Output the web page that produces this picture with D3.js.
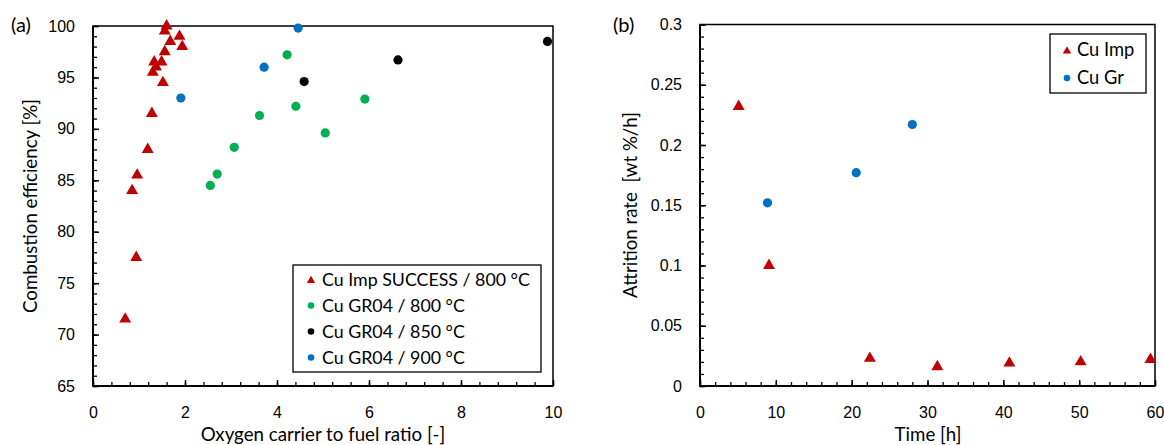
<!DOCTYPE html>
<html>
<head>
<meta charset="utf-8">
<script src="https://cdn.jsdelivr.net/npm/d3@7"></script>
<style>
body { margin: 0; background: #fff; }
svg { font-family: Lato, "Open Sans", sans-serif; }
text { fill: #000; }
</style>
</head>
<body>
<div id="chart"></div>
<script>
// panel (a) data: oxygen carrier to fuel ratio vs combustion efficiency
var impX = [0.70, 0.85, 0.94, 0.96, 1.19, 1.28, 1.30, 1.37, 1.33, 1.49, 1.52, 1.56, 1.68, 1.94, 1.88, 1.56, 1.60];
var impY = [71.5, 84.0, 77.5, 85.5, 88.0, 91.5, 95.5, 96.0, 96.5, 96.5, 94.5, 97.5, 98.5, 98.0, 99.0, 99.5, 100.0];
var gr800X = [2.55, 2.70, 3.07, 3.62, 4.22, 4.41, 5.05, 5.91];
var gr800Y = [84.5, 85.6, 88.2, 91.3, 97.2, 92.2, 89.6, 92.9];
var gr850X = [4.59, 6.63, 9.88];
var gr850Y = [94.6, 96.7, 98.5];
var gr900X = [1.91, 3.72, 4.46];
var gr900Y = [93.0, 96.0, 99.8];

// panel (b) data: time vs attrition rate
var attImpX = [5.1, 9.1, 22.4, 31.3, 40.8, 50.2, 59.4];
var attImpY = [0.232, 0.100, 0.023, 0.016, 0.019, 0.020, 0.022];
var attGrX = [8.9, 20.6, 28.0];
var attGrY = [0.152, 0.177, 0.217];

var red = "#C00000", green = "#00B050", black = "#000000", blue = "#0070C0";

var svg = d3.select("#chart").append("svg")
  .attr("width", 1164)
  .attr("height", 445);

function zip(xs, ys) {
  return xs.map(function(x, i) { return {x: x, y: ys[i]}; });
}

function drawFrame(g, x, y, xMinor, yMinor, xMajor, yMajor, xFmt, yFmt) {
  var w = x.range()[1], h = y.range()[0];
  // minor ticks (inside)
  g.append("g")
    .attr("transform", `translate(0,${h})`)
    .call(d3.axisBottom(x).tickValues(xMinor).tickSize(-4).tickFormat(""))
    .call(a => a.select(".domain").remove())
    .selectAll("line").attr("stroke-width", 1.3);
  g.append("g")
    .call(d3.axisLeft(y).tickValues(yMinor).tickSize(-4).tickFormat(""))
    .call(a => a.select(".domain").remove())
    .selectAll("line").attr("stroke-width", 1.3);
  // major ticks + labels
  var xa = g.append("g")
    .attr("transform", `translate(0,${h})`)
    .call(d3.axisBottom(x).tickValues(xMajor).tickSize(-6).tickPadding(21).tickFormat(xFmt));
  xa.select(".domain").remove();
  xa.selectAll("line").attr("stroke-width", 1.5);
  xa.selectAll("text").attr("font-size", 16).attr("font-family", null);
  var ya = g.append("g")
    .call(d3.axisLeft(y).tickValues(yMajor).tickSize(-6).tickPadding(18).tickFormat(yFmt));
  ya.select(".domain").remove();
  ya.selectAll("line").attr("stroke-width", 1.5);
  ya.selectAll("text").attr("font-size", 16).attr("font-family", null);
  // box
  g.append("rect")
    .attr("width", w).attr("height", h)
    .attr("fill", "none").attr("stroke", "#000").attr("stroke-width", 1.5);
  g.append("path")
    .attr("d", `M0,0V${h}H${w}`)
    .attr("fill", "none").attr("stroke", "#000").attr("stroke-width", 2);
}

var tri = d3.symbol().type(d3.symbolTriangle);

function drawTriangles(g, data, x, y, size) {
  g.selectAll(null).data(data).enter().append("path")
    .attr("d", tri.size(size)())
    .attr("transform", d => `translate(${x(d.x)},${y(d.y)})`)
    .attr("fill", red);
}

function drawCircles(g, data, x, y, r, color) {
  g.selectAll(null).data(data).enter().append("circle")
    .attr("cx", d => x(d.x)).attr("cy", d => y(d.y))
    .attr("r", r).attr("fill", color);
}

// ---------- panel (a) ----------
var aW = 460, aH = 360;
var gA = svg.append("g").attr("transform", "translate(93,26)");
var xA = d3.scaleLinear().domain([0, 10]).range([0, aW]);
var yA = d3.scaleLinear().domain([65, 100]).range([aH, 0]);

drawFrame(gA, xA, yA,
  d3.range(0, 10.01, 0.4), d3.range(65, 100.01, 1),
  d3.range(0, 10.01, 2), d3.range(65, 100.01, 5),
  d3.format("d"), d3.format("d"));

drawCircles(gA, zip(gr800X, gr800Y), xA, yA, 4.6, green);
drawCircles(gA, zip(gr850X, gr850Y), xA, yA, 4.6, black);
drawCircles(gA, zip(gr900X, gr900Y), xA, yA, 4.6, blue);
drawTriangles(gA, zip(impX, impY), xA, yA, 62);

// legend (a)
var legA = [
  {label: "Cu Imp SUCCESS / 800 °C", color: red, shape: "tri"},
  {label: "Cu GR04 / 800 °C", color: green, shape: "circle"},
  {label: "Cu GR04 / 850 °C", color: black, shape: "circle"},
  {label: "Cu GR04 / 900 °C", color: blue, shape: "circle"}
];
var lgA = svg.append("g").attr("transform", "translate(293,265)");
lgA.append("rect").attr("width", 248).attr("height", 107)
  .attr("fill", "#fff").attr("stroke", "#000").attr("stroke-width", 1.3);
legA.forEach(function(d, i) {
  var cy = 14.5 + i * 26;
  if (d.shape === "tri") {
    lgA.append("path").attr("d", tri.size(30)()).attr("transform", `translate(18,${cy + 1})`).attr("fill", d.color);
  } else {
    lgA.append("circle").attr("cx", 18).attr("cy", cy).attr("r", 3.3).attr("fill", d.color);
  }
  lgA.append("text").attr("x", 29).attr("y", cy).attr("dy", "0.35em")
    .attr("font-size", 17.8).text(d.label);
});

svg.append("text").attr("x", 11).attr("y", 25).attr("dy", "0.35em")
  .attr("font-size", 20).text("(a)");
svg.append("text")
  .attr("transform", "translate(30,206) rotate(-90)")
  .attr("text-anchor", "middle").attr("dy", "0.35em")
  .attr("font-size", 18.7).text("Combustion efficiency [%]");
svg.append("text").attr("x", 323).attr("y", 441).attr("text-anchor", "middle")
  .attr("font-size", 18.7).text("Oxygen carrier to fuel ratio [-]");

// ---------- panel (b) ----------
var bW = 455, bH = 361.5;
var gB = svg.append("g").attr("transform", "translate(700,24.5)");
var xB = d3.scaleLinear().domain([0, 60]).range([0, bW]);
var yB = d3.scaleLinear().domain([0, 0.3]).range([bH, 0]);

drawFrame(gB, xB, yB,
  d3.range(0, 60.01, 2), d3.range(0, 0.3001, 0.01),
  d3.range(0, 60.01, 10), d3.range(0, 0.3001, 0.05),
  d3.format("d"), d => d === 0 ? "0" : d3.format("~g")(+d.toFixed(2)));

drawCircles(gB, zip(attGrX, attGrY), xB, yB, 4.6, blue);
drawTriangles(gB, zip(attImpX, attImpY), xB, yB, 62);

var legB = [
  {label: "Cu Imp", color: red, shape: "tri"},
  {label: "Cu Gr", color: blue, shape: "circle"}
];
var lgB = svg.append("g").attr("transform", "translate(1050,34)");
lgB.append("rect").attr("width", 96).attr("height", 59)
  .attr("fill", "#fff").attr("stroke", "#000").attr("stroke-width", 1.3);
legB.forEach(function(d, i) {
  var cy = 16 + i * 28;
  if (d.shape === "tri") {
    lgB.append("path").attr("d", tri.size(30)()).attr("transform", `translate(17,${cy + 1})`).attr("fill", d.color);
  } else {
    lgB.append("circle").attr("cx", 17).attr("cy", cy).attr("r", 3.3).attr("fill", d.color);
  }
  lgB.append("text").attr("x", 27).attr("y", cy).attr("dy", "0.35em")
    .attr("font-size", 18.3).text(d.label);
});

svg.append("text").attr("x", 613).attr("y", 25).attr("dy", "0.35em")
  .attr("font-size", 20).text("(b)");
svg.append("text")
  .attr("transform", "translate(630,205) rotate(-90)")
  .attr("text-anchor", "middle").attr("dy", "0.35em")
  .attr("font-size", 18.7).style("white-space", "pre").text("Attrition rate  [wt %/h]");
svg.append("text").attr("x", 928).attr("y", 441).attr("text-anchor", "middle")
  .attr("font-size", 18.7).text("Time [h]");
</script>
</body>
</html>
